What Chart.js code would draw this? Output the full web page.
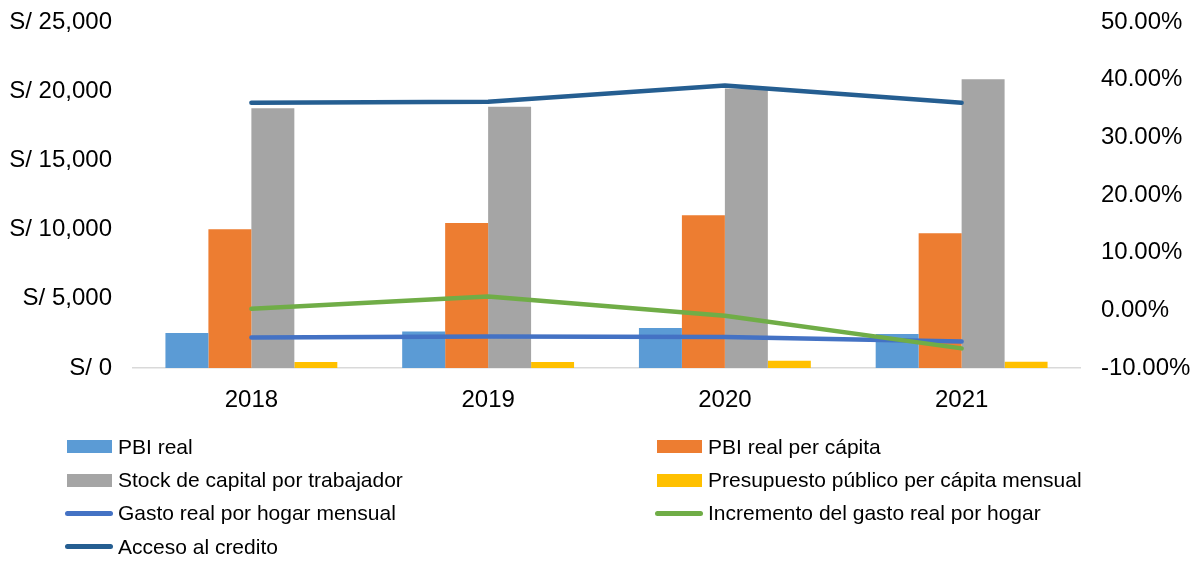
<!DOCTYPE html>
<html>
<head>
<meta charset="utf-8">
<script src="https://cdn.jsdelivr.net/npm/chart.js@4"></script>
<style>
  html, body { margin: 0; padding: 0; background: #fff; }
  #wrap { position: relative; width: 1201px; height: 561px; }
  #legend { position: absolute; left: 0; top: 0; width: 1201px; height: 561px; pointer-events: none;
    font-family: "Liberation Sans", Arial, sans-serif; font-size: 21px; color: #000; }
  .item { position: absolute; display: flex; align-items: center; height: 26px; white-space: nowrap; }
  .mark { width: 48px; display: flex; justify-content: center; margin-right: 5px; }
</style>
</head>
<body>
<div id="wrap">
  <canvas id="chart" width="1201" height="561"></canvas>
  <div id="legend"></div>
</div>
<script>
var years = ['2018', '2019', '2020', '2021'];
var pbiReal = [2525, 2640, 2885, 2455];
var pbiPerCapita = [10030, 10480, 11040, 9740];
var stockCapital = [18760, 18870, 20200, 20870];
var presupuesto = [435, 435, 525, 455];
var gastoHogar = [2210, 2280, 2240, 1920];
var incrementoGasto = [0.27, 2.4, -0.95, -6.6];
var accesoCredito = [36.0, 36.15, 39.0, 36.0];

var fontFamily = '"Liberation Sans", Arial, sans-serif';

var datasets = [
    { type: 'bar', label: 'PBI real', data: pbiReal, backgroundColor: '#5B9BD5', yAxisID: 'y', order: 4 },
    { type: 'bar', label: 'PBI real per cápita', data: pbiPerCapita, backgroundColor: '#ED7D31', yAxisID: 'y', order: 4 },
    { type: 'bar', label: 'Stock de capital por trabajador', data: stockCapital, backgroundColor: '#A5A5A5', yAxisID: 'y', order: 4 },
    { type: 'bar', label: 'Presupuesto público per cápita mensual', data: presupuesto, backgroundColor: '#FFC000', yAxisID: 'y', order: 4 },
    { type: 'line', label: 'Gasto real por hogar mensual', data: gastoHogar, borderColor: '#4472C4', yAxisID: 'y', order: 3 },
    { type: 'line', label: 'Incremento del gasto real por hogar', data: incrementoGasto, borderColor: '#70AD47', yAxisID: 'y1', order: 2 },
    { type: 'line', label: 'Acceso al credito', data: accesoCredito, borderColor: '#255E91', yAxisID: 'y1', order: 1 }
];
datasets.forEach(function (d) {
    if (d.type === 'line') {
        d.borderWidth = 4.5;
        d.pointRadius = 0;
        d.tension = 0;
        d.borderCapStyle = 'round';
        d.borderJoinStyle = 'round';
        d.fill = false;
    } else {
        d.categoryPercentage = 0.726;
        d.barPercentage = 1;
    }
});

var ctx = document.getElementById('chart').getContext('2d');
var chart = new Chart(ctx, {
    data: { labels: years, datasets: datasets },
    options: {
        responsive: false,
        animation: false,
        layout: { padding: { top: 22, bottom: 143, left: 0, right: 0 } },
        plugins: { legend: { display: false }, tooltip: { enabled: false } },
        scales: {
            x: {
                grid: { display: false },
                border: { display: true, color: '#D9D9D9', width: 1.5 },
                ticks: { color: '#000', font: { family: fontFamily, size: 24 }, padding: 10 },
                afterFit: function (s) { s.height = 50; }
            },
            y: {
                position: 'left',
                min: 0, max: 25000,
                grid: { display: false, drawTicks: true, tickLength: 18 },
                border: { display: false },
                ticks: {
                    stepSize: 5000, padding: 3, color: '#000',
                    font: { family: fontFamily, size: 24 },
                    callback: function (v) { return 'S/ ' + v.toLocaleString('en-US'); }
                },
                afterFit: function (s) { s.width = 133; }
            },
            y1: {
                position: 'right',
                min: -10, max: 50,
                grid: { display: false, drawTicks: true, tickLength: 18 },
                border: { display: false },
                ticks: {
                    stepSize: 10, padding: 3, color: '#000',
                    font: { family: fontFamily, size: 24 },
                    callback: function (v) { return v.toFixed(2) + '%'; }
                },
                afterFit: function (s) { s.width = 121; }
            }
        }
    }
});

// two-column legend, same order as the datasets
var legend = document.getElementById('legend');
datasets.forEach(function (d, i) {
    var col = i % 2, row = Math.floor(i / 2);
    var item = document.createElement('div');
    item.className = 'item';
    item.style.left = (col ? 655 : 65) + 'px';
    item.style.top = (446.7 + row * 33.3 - 13) + 'px';
    var mark = document.createElement('span');
    mark.className = 'mark';
    var sw = document.createElement('span');
    if (d.type === 'bar') {
        sw.style.cssText = 'display:block;width:45px;height:13px;background:' + d.backgroundColor;
    } else {
        sw.style.cssText = 'display:block;width:48px;height:4.5px;border-radius:3px;background:' + d.borderColor;
    }
    mark.appendChild(sw);
    var txt = document.createElement('span');
    txt.textContent = d.label;
    item.appendChild(mark);
    item.appendChild(txt);
    legend.appendChild(item);
});
</script>
</body>
</html>
